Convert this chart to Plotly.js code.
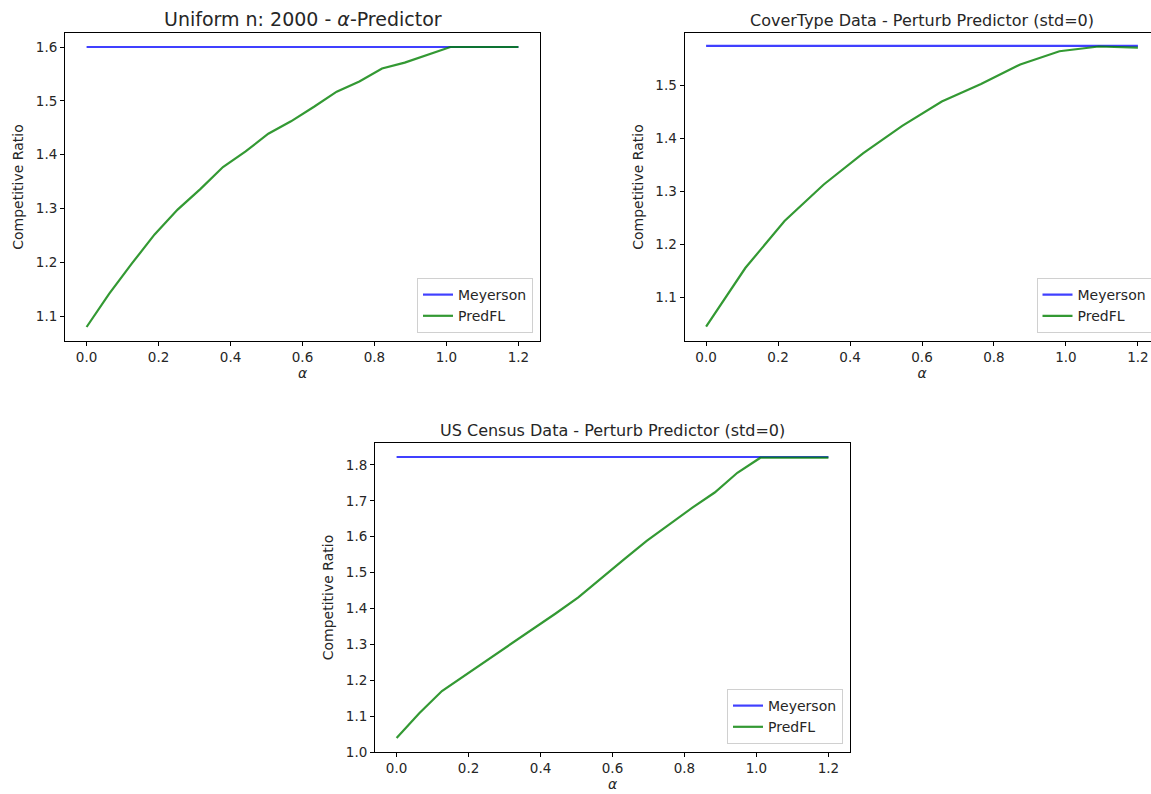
<!DOCTYPE html>
<html>
<head>
<meta charset="utf-8">
<script src="https://cdn.plot.ly/plotly-3.0.1.min.js"></script>
<style>
html, body { margin: 0; padding: 0; overflow: hidden; background: #fff; }
#chart { width: 1160px; height: 794px; }
</style>
</head>
<body>
<div id="chart"></div>
<script>
// ---- Data ----
const alphaUniform = [0, 0.063, 0.126, 0.189, 0.253, 0.316, 0.379, 0.442, 0.505, 0.568, 0.632, 0.695, 0.758, 0.821, 0.884, 0.947, 1.011, 1.074, 1.137, 1.2];
const meyersonUniform = [1.6, 1.6, 1.6, 1.6, 1.6, 1.6, 1.6, 1.6, 1.6, 1.6, 1.6, 1.6, 1.6, 1.6, 1.6, 1.6, 1.6, 1.6, 1.6, 1.6];
const predflUniform = [1.080, 1.142, 1.198, 1.252, 1.298, 1.336, 1.377, 1.406, 1.439, 1.462, 1.489, 1.517, 1.536, 1.560, 1.571, 1.585, 1.600, 1.600, 1.600, 1.600];

const alphaCover = [0, 0.109, 0.218, 0.327, 0.436, 0.545, 0.655, 0.764, 0.873, 0.982, 1.091, 1.2];
const meyersonCover = [1.575, 1.575, 1.575, 1.575, 1.575, 1.575, 1.575, 1.575, 1.575, 1.575, 1.575, 1.575];
const predflCover = [1.044, 1.155, 1.244, 1.313, 1.372, 1.424, 1.470, 1.503, 1.540, 1.565, 1.574, 1.572];

const alphaCensus = [0, 0.063, 0.126, 0.189, 0.253, 0.316, 0.379, 0.442, 0.505, 0.568, 0.632, 0.695, 0.758, 0.821, 0.884, 0.947, 1.011, 1.074, 1.137, 1.2];
const meyersonCensus = [1.822, 1.822, 1.822, 1.822, 1.822, 1.822, 1.822, 1.822, 1.822, 1.822, 1.822, 1.822, 1.822, 1.822, 1.822, 1.822, 1.822, 1.822, 1.822, 1.822];
const predflCensus = [1.039, 1.108, 1.170, 1.213, 1.258, 1.299, 1.343, 1.386, 1.431, 1.484, 1.537, 1.588, 1.635, 1.680, 1.723, 1.778, 1.820, 1.820, 1.820, 1.820];

const titles = [
  "Uniform n: 2000 - <i>α</i>-Predictor",
  "CoverType Data - Perturb Predictor (std=0)",
  "US Census Data - Perturb Predictor (std=0)"
];
const seriesNames = ["Meyerson", "PredFL"];
const yLabel = "Competitive Ratio";
const xLabel = "<i>α</i>";

// ---- Layout geometry ----
const W = 1160, H = 794;
const px = v => v / W;
const py = v => 1 - v / H;
const FONT = "DejaVu Sans, sans-serif";
const TXT = "#262626";
const BLUE = "rgba(0,0,255,0.75)";
const GREEN = "rgba(0,128,0,0.8)";

const boxes = [
  {l: 65, r: 540, t: 33, b: 341, yr: [1.054, 1.626]},
  {l: 684.5, r: 1159.5, t: 33, b: 341, yr: [1.017, 1.5995]},
  {l: 375, r: 850, t: 443, b: 752, yr: [1.0, 1.861]}
];
const sets = [
  [alphaUniform, meyersonUniform, predflUniform],
  [alphaCover, meyersonCover, predflCover],
  [alphaCensus, meyersonCensus, predflCensus]
];

const traces = [];
const layout = {
  width: W, height: H,
  margin: {l: 0, r: 0, t: 0, b: 0},
  paper_bgcolor: "#fff", plot_bgcolor: "#fff",
  font: {family: FONT, color: TXT, size: 13},
  annotations: []
};

boxes.forEach((bx, i) => {
  const n = i === 0 ? "" : String(i + 1);
  const xa = "x" + n, ya = "y" + n;
  const lg = i === 0 ? "legend" : "legend" + (i + 1);
  const [xs, m, p] = sets[i];
  traces.push({x: xs, y: m, xaxis: xa, yaxis: ya, mode: "lines", name: seriesNames[0],
               line: {color: BLUE, width: 2.2}, legend: lg});
  traces.push({x: xs, y: p, xaxis: xa, yaxis: ya, mode: "lines", name: seriesNames[1],
               line: {color: GREEN, width: 2.2}, legend: lg});
  const axCommon = {
    showline: true, mirror: true, linecolor: "#000", linewidth: 1,
    ticks: "outside", ticklen: 4, tickcolor: "#000", tickwidth: 1,
    showgrid: false, zeroline: false, tickformat: ".1f",
    tickfont: {family: FONT, size: 13.5, color: TXT}
  };
  layout["xaxis" + n] = Object.assign({}, axCommon, {
    domain: [px(bx.l), px(bx.r)], anchor: ya, range: [-0.06, 1.26],
    tick0: 0, dtick: 0.2,
    title: {text: xLabel, font: {family: FONT, size: 14, color: TXT}, standoff: 3}
  });
  layout["yaxis" + n] = Object.assign({}, axCommon, {
    domain: [py(bx.b), py(bx.t)], anchor: xa, range: bx.yr,
    tick0: 1.0, dtick: 0.1,
    title: {text: yLabel, font: {family: FONT, size: 14, color: TXT}, standoff: 8}
  });
  layout[lg] = {
    x: px(bx.r - 7), y: py(bx.b - 8), xanchor: "right", yanchor: "bottom",
    bgcolor: "rgba(255,255,255,0.9)", bordercolor: "#d0d0d0", borderwidth: 1,
    font: {family: FONT, size: 14, color: TXT}, itemwidth: 30
  };
  layout.annotations.push({
    text: titles[i], xref: "paper", yref: "paper",
    x: px((bx.l + bx.r) / 2), y: py(bx.t), xanchor: "center", yanchor: "bottom",
    yshift: 1, showarrow: false,
    font: {family: FONT, size: i === 0 ? 19 : 16, color: TXT}
  });
});

Plotly.newPlot("chart", traces, layout, {staticPlot: true, displayModeBar: false});
</script>
</body>
</html>
